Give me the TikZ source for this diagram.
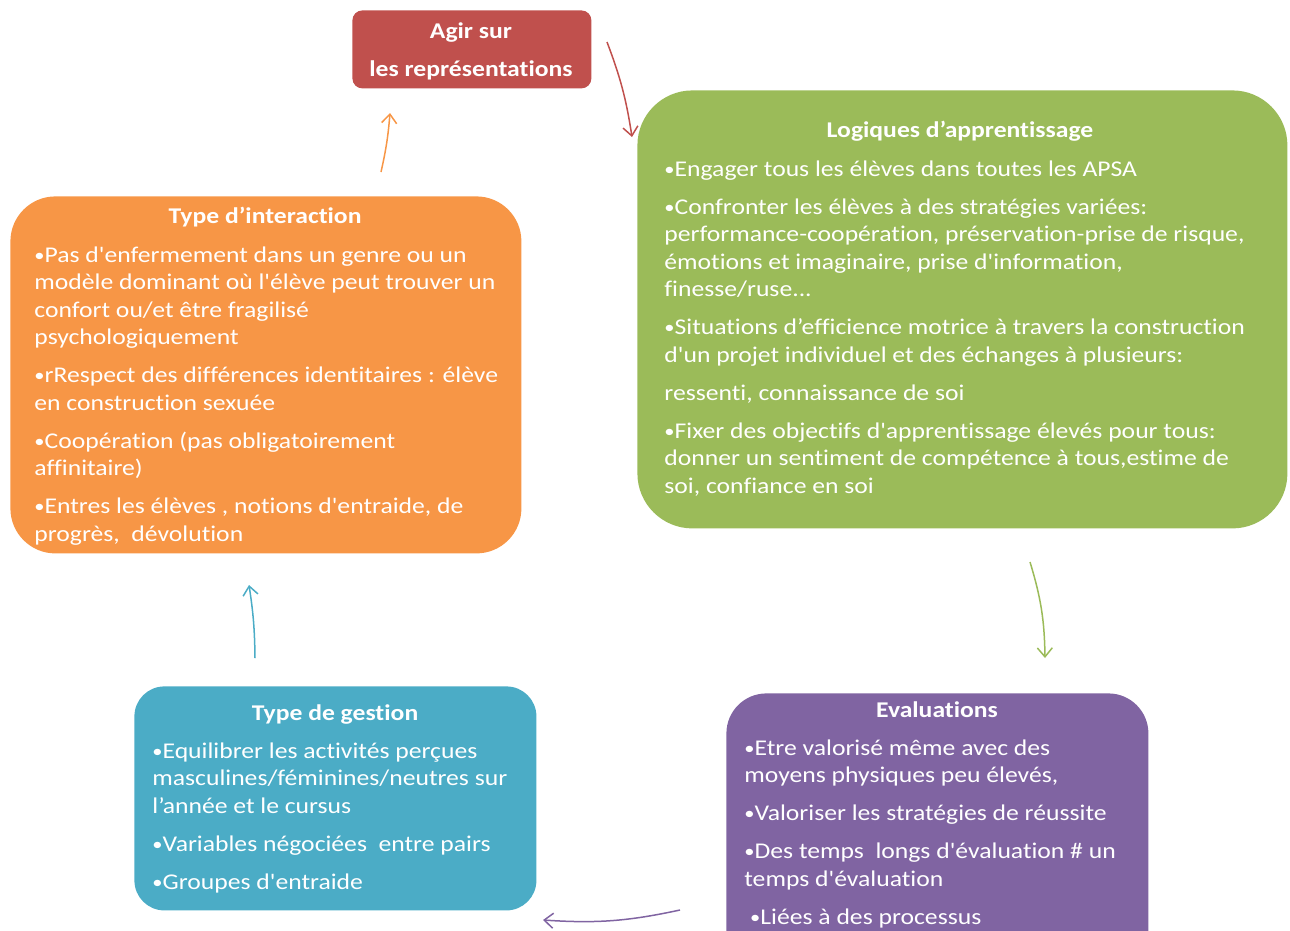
\documentclass[tikz,border=0pt]{standalone}
\usepackage{fontspec}
\setmainfont{Carlito}[Ligatures={TeXOff, CommonOff}, FakeStretch=1.14]
\usepackage[dvipsnames]{xcolor}
\usepackage{tikz}
\usetikzlibrary{arrows.meta}

\definecolor{agirc}{HTML}{C0504D}
\definecolor{logc}{HTML}{9BBB59}
\definecolor{interc}{HTML}{F79646}
\definecolor{gestc}{HTML}{4BACC6}
\definecolor{evalc}{HTML}{8064A2}
\newcommand{\puce}{\raisebox{1pt}{\fontsize{18}{18}\selectfont•}}
\newcommand{\haut}{\rule{0pt}{21pt}}

\begin{document}
\begin{tikzpicture}[x=1pt, y=-1pt, thick]
  \tikzset{
    cadre/.style={rectangle, anchor=north west, inner sep=0pt},
    titre/.style={anchor=base, text=white, font=\fontsize{22.5}{25}\selectfont\bfseries},
    corps/.style={anchor=north west, align=left, inner sep=0pt, text=white,
      font=\fontsize{22.5}{27.5}\selectfont},
    fleche/.style={line width=1.5pt, -{Straight Barb[length=9pt, width=15pt]}}
  }
  \useasboundingbox (0,0) rectangle (1290,930);
  \clip (0,0) rectangle (1290,930);

  % Boxes
  \node [cadre, fill=agirc, rounded corners=10pt, minimum width=239pt, minimum height=78pt] (agir) at (352,10) {};
  \node [cadre, fill=logc, rounded corners=55pt, minimum width=650pt, minimum height=438pt] (logiques) at (637,90) {};
  \node [cadre, fill=interc, rounded corners=45pt, minimum width=511pt, minimum height=357pt] (interaction) at (10,196) {};
  \node [cadre, fill=gestc, rounded corners=30pt, minimum width=402pt, minimum height=224pt] (gestion) at (134,686) {};
  \node [cadre, fill=evalc, rounded corners=40pt, minimum width=422pt, minimum height=280pt] (evaluations) at (726,693) {};

  % Titles
  \node [titre, anchor=north, align=center, font=\fontsize{22.5}{38}\selectfont\bfseries] (agir-t) at (471,14) {\haut Agir sur\\les représentations};
  \node [titre] (logiques-t) at (960,137) {Logiques d’apprentissage};
  \node [titre] (interaction-t) at (265,223) {Type d’interaction};
  \node [titre] (gestion-t) at (335,720) {Type de gestion};
  \node [titre] (evaluations-t) at (937,717) {Evaluations};

  % Texts
  \node [corps] (logiques-txt) at (664,155) {\haut\puce Engager tous les élèves dans toutes les APSA\\[10.5pt]
    \puce Confronter les élèves à des stratégies variées:\\
    performance-coopération, préservation-prise de risque,\\
    émotions et imaginaire, prise d'information,\\
    finesse/ruse...\\[10.5pt]
    \puce Situations d’efficience motrice à travers la construction\\
    d'un projet individuel et des échanges à plusieurs:\\[10.5pt]
    ressenti, connaissance de soi\\[10.5pt]
    \puce Fixer des objectifs d'apprentissage élevés pour tous:\\
    donner un sentiment de compétence à tous,estime de\\
    soi, confiance en soi};

  \node [corps] (interaction-txt) at (34,241) {\haut\puce Pas d'enfermement dans un genre ou un\\
    modèle dominant où l'élève peut trouver un\\
    confort ou/et être fragilisé\\
    psychologiquement\\[10.5pt]
    \puce rRespect des différences identitaires : élève\\
    en construction sexuée\\[10.5pt]
    \puce Coopération (pas obligatoirement\\
    affinitaire)\\[10.5pt]
    \puce Entres les élèves , notions d'entraide, de\\
    progrès,\ \ dévolution};

  \node [corps] (gestion-txt) at (152,737) {\haut\puce Equilibrer les activités perçues\\
    masculines/féminines/neutres sur\\
    l’année et le cursus\\[10.5pt]
    \puce Variables négociées\ \ entre pairs\\[10.5pt]
    \puce Groupes d'entraide};

  \node [corps] (evaluations-txt) at (744,734) {\haut\puce Etre valorisé même avec des\\
    moyens physiques peu élevés,\\[10.5pt]
    \puce Valoriser les stratégies de réussite\\[10.5pt]
    \puce Des temps\ \ longs d'évaluation \# un\\
    temps d'évaluation\\[10.5pt]
    \ \puce Liées à des processus};

  % Edges
  \coordinate (a1) at (607,42);
  \coordinate (a2) at (632,137);
  \coordinate (l1) at (1030,562);
  \coordinate (l2) at (1045,658);
  \coordinate (e1) at (680,910);
  \coordinate (e2) at (543,920);
  \coordinate (g1) at (255,658);
  \coordinate (g2) at (249,585);
  \coordinate (i1) at (381,172);
  \coordinate (i2) at (390,113);

  \draw [fleche, agirc] (a1) to[bend left=6] (a2);
  \draw [fleche, logc] (l1) to[bend left=8] (l2);
  \draw [fleche, evalc] (e1) to[bend left=8] (e2);
  \draw [fleche, gestc] (g1) to[bend right=4] (g2);
  \draw [fleche, interc] (i1) to[bend right=4] (i2);

\end{tikzpicture}
\end{document}
